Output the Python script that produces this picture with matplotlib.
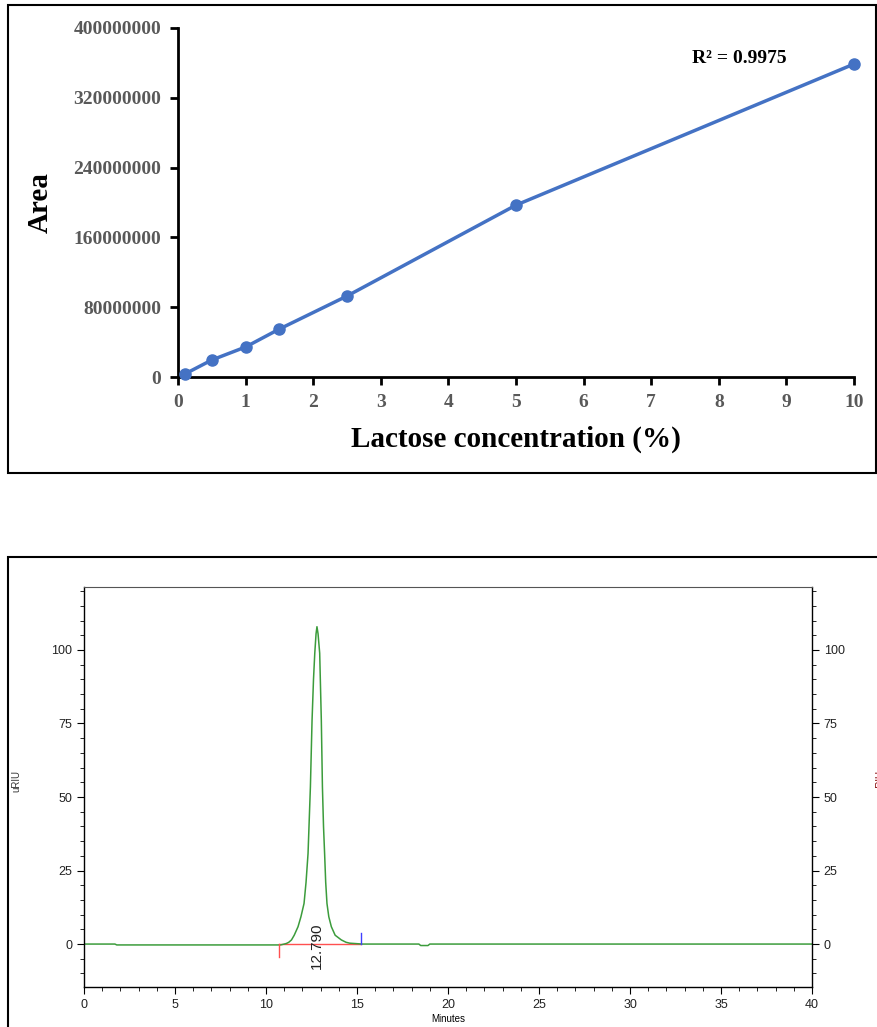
import matplotlib
matplotlib.use("Agg")
import matplotlib.pyplot as plt
from matplotlib.patches import Rectangle
from matplotlib.ticker import MultipleLocator

# calibration curve
conc = [0.1, 0.5, 1.0, 1.5, 2.5, 5.0, 10.0]
area = [3.4e6, 19.5e6, 34.4e6, 55.0e6, 92.8e6, 197.0e6, 358.7e6]
area_ticks = [0, 80000000, 160000000, 240000000, 320000000, 400000000]
r2_label = "R\u00b2 = 0.9975"

# chromatogram
minutes = [0, 1.7, 1.8, 10.8, 11.0, 11.12, 11.25, 11.4, 11.55, 11.76, 11.92, 12.09,
           12.2, 12.31, 12.44, 12.53, 12.61, 12.68, 12.75, 12.80, 12.86, 12.95,
           13.04, 13.10, 13.16, 13.22, 13.28, 13.35, 13.45, 13.59, 13.8, 14.14,
           14.4, 14.6, 15.3, 18.4, 18.5, 18.9, 19.0, 40]
uriu = [0, 0, -0.3, -0.3, 0, 0.2, 0.6, 1.4, 3.0, 5.9, 9.3, 13.8,
        21.0, 30.8, 53.5, 76.0, 90.0, 98.9, 105.5, 107.9, 105.5, 98.9,
        76.0, 53.5, 40.0, 30.8, 21.0, 13.8, 9.3, 5.9, 3.0, 1.4,
        0.6, 0.3, 0, 0, -0.5, -0.5, 0, 0]
peak_rt = 12.790
peak_start = 10.72
peak_end = 15.24

fig = plt.figure(figsize=(8.77, 10.27), dpi=100)

# outer frames
fig.patches.append(Rectangle((8 / 877, 1 - 473 / 1027), 868 / 877, 468 / 1027,
                             transform=fig.transFigure, fill=False, lw=1.5, ec="black"))
fig.patches.append(Rectangle((8 / 877, -0.02), 1.0, (1027 - 557) / 1027 + 0.02,
                             transform=fig.transFigure, fill=False, lw=1.5, ec="black"))

# ---- top: calibration ----
serif = "Liberation Serif"
ax1 = fig.add_axes([178 / 877, 1 - 377 / 1027, (854 - 178) / 877, (377 - 28) / 1027])
ax1.plot(conc, area, color="#4472C4", lw=2.5, marker="o", ms=8, clip_on=False, zorder=3)
ax1.set_xlim(0, 10)
ax1.set_ylim(0, 400000000)
ax1.set_xticks(range(0, 11))
ax1.set_yticks(area_ticks)
ax1.set_yticklabels([str(v) for v in area_ticks])
for s in ["top", "right"]:
    ax1.spines[s].set_visible(False)
for s in ["left", "bottom"]:
    ax1.spines[s].set_linewidth(2)
ax1.tick_params(width=2, length=6, labelsize=14, labelcolor="#595959", pad=6)
for lab in ax1.get_xticklabels() + ax1.get_yticklabels():
    lab.set_fontfamily(serif)
    lab.set_fontweight("bold")
ax1.set_xlabel("Lactose concentration (%)", fontsize=21, fontweight="bold",
               family=serif, labelpad=11)
ax1.set_ylabel("Area", fontsize=21, fontweight="bold", family=serif, labelpad=14)
ax1.text(8.3, 365000000, r2_label, fontsize=14, fontweight="bold", family=serif,
         ha="center", va="center")

# ---- bottom: chromatogram ----
sans = "Liberation Sans"
ax2 = fig.add_axes([84 / 877, 1 - 987 / 1027, (812 - 84) / 877, (987 - 587) / 1027])
ax2.plot(minutes, uriu, color="#3c9c3c", lw=1.1)
ax2.plot([peak_start, peak_end], [0, 0], color="#ff5050", lw=1, zorder=1)
ax2.plot([peak_start, peak_start], [0, -4.5], color="#ff5050", lw=1)
ax2.plot([peak_end, peak_end], [0, 3.8], color="#4040ff", lw=1)
ax2.text(peak_rt, -0.5, f"{peak_rt:.3f}", rotation=90, ha="center", va="center",
         fontsize=11, family=sans, color="#222222")
ax2.set_xlim(0, 40)
ax2.set_ylim(-14.6, 121.4)
ax2.xaxis.set_major_locator(MultipleLocator(5))
ax2.xaxis.set_minor_locator(MultipleLocator(1))
ax2.yaxis.set_major_locator(MultipleLocator(25))
ax2.yaxis.set_minor_locator(MultipleLocator(5))
ax2.tick_params(which="both", right=True, labelright=True, top=False,
                labelsize=9, labelcolor="#222222", direction="out")
ax2.tick_params(which="major", length=5, width=0.8)
ax2.tick_params(which="minor", length=3, width=0.6)
for lab in ax2.get_xticklabels() + ax2.get_yticklabels():
    lab.set_fontfamily(sans)
for s in ["left", "right", "bottom"]:
    ax2.spines[s].set_linewidth(1)
ax2.spines["top"].set_color("#555555")
ax2.spines["top"].set_linewidth(0.8)
ax2.set_xlabel("Minutes", fontsize=7, family=sans, labelpad=2)
fig.text(16 / 877, 1 - 781 / 1027, "uRIU", rotation=90, fontsize=7, family=sans,
         ha="center", va="center", color="#333333")
# right-hand axis label, cut off by the page edge as in the source
fig.text(880 / 877, 1 - 781 / 1027, "uRIU", rotation=90, fontsize=7, family=sans,
         ha="center", va="center", color="#800000")

fig.savefig("out.png", dpi=100)
